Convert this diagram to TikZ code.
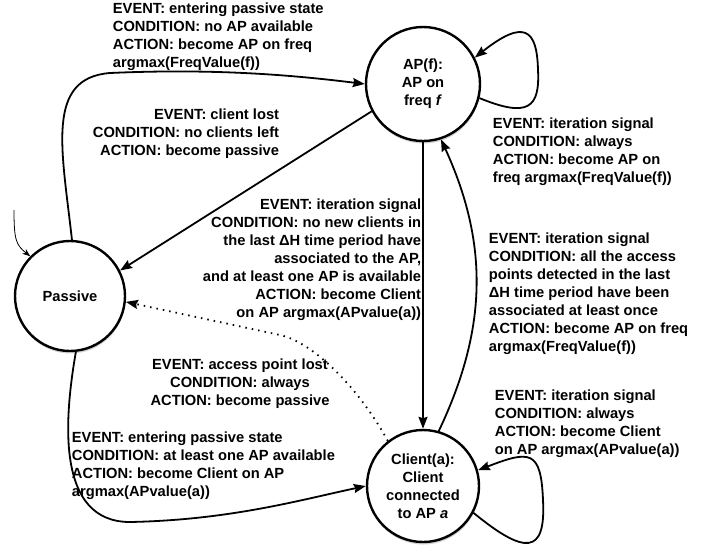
\documentclass[tikz,border=0pt]{standalone}
\usepackage{fontspec}
\setmainfont{Liberation Sans}
\usetikzlibrary{arrows.meta,shadows}

\begin{document}
\begin{tikzpicture}[x=1pt,y=-1pt,
  line width=1.8pt,
  >={Stealth[length=12pt,width=9pt,inset=1.5pt]},
  txt/.style={font=\fontsize{14.7}{18}\selectfont\bfseries, inner sep=0pt},
  state/.style={circle, draw, line width=2.4pt, fill=white, txt, align=center,
    drop shadow={shadow xshift=0.5pt, shadow yshift=-2.5pt, opacity=0.35}}]
    \useasboundingbox (0,0) rectangle (717,550);

    \node[state, minimum size=114pt] (ap) at (423,84) {AP(f):\\AP on\\freq \textit{f}};
    \node[state, minimum size=110pt] (passive) at (70,296) {Passive};
    \node[state, minimum size=112pt] (client) at (423,486) {Client(a):\\Client\\connected\\to AP \textit{a}};
    \coordinate (start) at (14,210);

    \draw[line width=0.8pt, -{Stealth[length=8pt,width=6pt]}]
      (start) .. controls (14,240) and (16,245) .. (passive.135);
    \draw[->] (passive.88) .. controls (62,150) and (45,78) .. (110,73)
      .. controls (220,68) and (300,76) .. (ap.west);
    \draw[->] (ap.208) -- (passive.27);
    \draw[->] (ap.-14) .. controls (528,118) and (540,108) .. (538,70)
      .. controls (537,30) and (525,18) .. (ap.27);
    \draw[->] (ap.south) -- (client.north);
    \draw[->] (client.74) to[bend right=25] (ap.-72);
    \draw[->] (client.-28) .. controls (525,555) and (546,555) .. (543,500)
      .. controls (541,450) and (530,450) .. (client.16);
    \draw[->] (passive.-84) .. controls (64,420) and (56,522) .. (130,522)
      .. controls (230,520) and (300,500) .. (client.west);
    \draw[->, dash pattern=on 1.5pt off 5pt] (client.128) .. controls (360,390) and (315,343) .. (280,335) -- (passive.-6);

    \node[txt, anchor=north west, align=left] (l1) at (112,1.5)
      {EVENT: entering passive state\\CONDITION: no AP available\\ACTION: become AP on freq\\argmax(FreqValue(f))};
    \node[txt, anchor=north east, align=right] (l2) at (280,107.5)
      {EVENT: client lost\\CONDITION: no clients left\\ACTION: become passive};
    \node[txt, anchor=north west, align=left] (l3) at (492,116.5)
      {EVENT: iteration signal\\CONDITION: always\\ACTION: become AP on\\freq argmax(FreqValue(f))};
    \node[txt, anchor=north east, align=right] (l4) at (422,197.5)
      {EVENT: iteration signal\\CONDITION: no new clients in\\the last ΔH time period have\\associated to the AP,\\and at least one AP is available\\ACTION: become Client\\on AP argmax(APvalue(a))};
    \node[txt, anchor=north west, align=left] (l5) at (488,231.5)
      {EVENT: iteration signal\\CONDITION: all the access\\points detected in the last\\ΔH time period have been\\associated at least once\\ACTION: become AP on freq\\argmax(FreqValue(f))};
    \node[txt, anchor=north, align=center] (l6) at (240,357.5)
      {EVENT: access point lost\\CONDITION: always\\ACTION: become passive};
    \node[txt, anchor=north west, align=left] (l7) at (71,430.5)
      {EVENT: entering passive state\\CONDITION: at least one AP available\\ACTION: become Client on AP\\argmax(APvalue(a))};
    \node[txt, anchor=north west, align=left] (l8) at (494,388.5)
      {EVENT: iteration signal\\CONDITION: always\\ACTION: become Client\\on AP argmax(APvalue(a))};
\end{tikzpicture}
\end{document}
